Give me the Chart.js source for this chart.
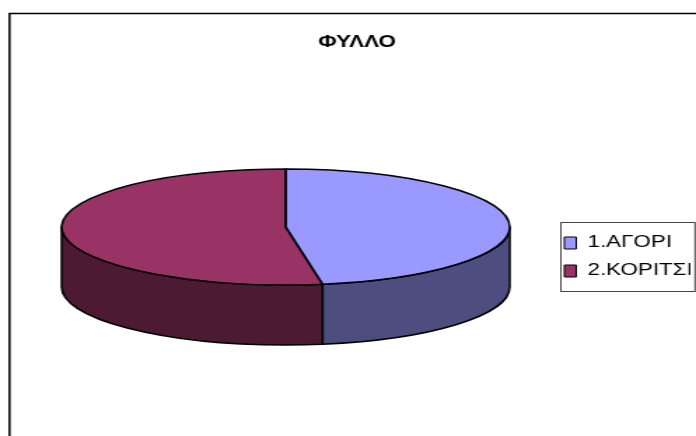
<!DOCTYPE html>
<html>
<head>
<meta charset="utf-8">
<script src="https://cdn.jsdelivr.net/npm/chart.js@4"></script>
<style>
  html, body { margin: 0; padding: 0; background: #fff; }
  #chart { display: block; }
</style>
</head>
<body>
<!-- the original picture is stretched sideways, so the canvas is drawn narrow and widened by css -->
<canvas id="chart" width="497" height="436" style="width:696px;height:436px"></canvas>
<script>
const chartTitle = 'ΦΥΛΛΟ';
const categories = ['1.ΑΓΟΡΙ', '2.ΚΟΡΙΤΣΙ'];
const counts = [45, 50];

const topColors = ['#9999ff', '#993366'];
const sideColors = ['#4d4d80', '#4d1a33'];
const fontFamily = "'Liberation Sans', Arial, sans-serif";

const tilt = 0.3625; // height / width of the top face
const depth = 60;    // thickness of the pie

// parts of a slice that face the viewer (lower half of the ellipse)
function frontParts(a1, a2) {
  const parts = [];
  for (let base = -2 * Math.PI; base <= 2 * Math.PI; base += 2 * Math.PI) {
    const s = Math.max(a1, base);
    const e = Math.min(a2, base + Math.PI);
    if (e > s) parts.push([s, e]);
  }
  return parts;
}

const frame = {
  id: 'frame',
  beforeDraw(chart) {
    const ctx = chart.ctx;
    ctx.save();
    ctx.strokeStyle = '#000';
    ctx.lineWidth = 1.5;
    ctx.strokeRect(6.8, 13.5, chart.width + 20, chart.height + 20);
    ctx.restore();
  }
};

const pie3d = {
  id: 'pie3d',
  beforeDatasetsDraw(chart) {
    const ctx = chart.ctx;
    const arcs = chart.getDatasetMeta(0).data;
    ctx.save();
    ctx.lineWidth = 1.5;
    ctx.strokeStyle = '#000';
    ctx.lineJoin = 'round';
    arcs.forEach((arc, i) => {
      const { x, y, outerRadius: r, startAngle, endAngle } = arc;
      const top = y - depth / 2;
      frontParts(startAngle, endAngle).forEach(([s, e]) => {
        ctx.beginPath();
        ctx.ellipse(x, top, r, r * tilt, 0, s, e);
        ctx.ellipse(x, top + depth, r, r * tilt, 0, e, s, true);
        ctx.closePath();
        ctx.fillStyle = sideColors[i];
        ctx.fill();
        ctx.stroke();
      });
    });
    ctx.restore();

    // squash the library's round pie into the top face
    const { x, y } = arcs[0];
    ctx.save();
    ctx.translate(x, y - depth / 2);
    ctx.scale(1, tilt);
    ctx.translate(-x, -y);
  },
  afterDatasetsDraw(chart) {
    const ctx = chart.ctx;
    ctx.restore();
    const arcs = chart.getDatasetMeta(0).data;
    ctx.save();
    ctx.lineWidth = 1.5;
    ctx.strokeStyle = '#000';
    ctx.lineJoin = 'round';
    arcs.forEach(arc => {
      const { x, y, outerRadius: r, startAngle, endAngle } = arc;
      const top = y - depth / 2;
      ctx.beginPath();
      ctx.moveTo(x, top);
      ctx.ellipse(x, top, r, r * tilt, 0, startAngle, endAngle);
      ctx.closePath();
      ctx.stroke();
    });
    ctx.restore();
  }
};

const legendBorder = {
  id: 'legendBorder',
  afterDraw(chart) {
    const boxes = chart.legend.legendHitBoxes;
    if (!boxes || !boxes.length) return;
    const first = boxes[0];
    const last = boxes[boxes.length - 1];
    const left = first.left - 3;
    const top = first.top - 13;
    const bottom = last.top + last.height + 12;
    const ctx = chart.ctx;
    ctx.save();
    ctx.strokeStyle = '#444';
    ctx.lineWidth = 1;
    ctx.strokeRect(left + 0.5, top + 0.5, chart.width - 1.2 - left, bottom - top);
    ctx.restore();
  }
};

const baseLabels = Chart.overrides.doughnut.plugins.legend.labels.generateLabels;

new Chart(document.getElementById('chart'), {
  type: 'pie',
  data: {
    labels: categories,
    datasets: [{
      data: counts,
      backgroundColor: topColors,
      borderWidth: 0,
      hoverBorderWidth: 0,
      hoverOffset: 0,
      offset: 0,
    }],
  },
  options: {
    responsive: false,
    animation: false,
    events: [],
    layout: { padding: { left: 17, right: 4, top: 0, bottom: 19 } },
    plugins: {
      title: {
        display: true,
        text: chartTitle,
        color: '#000',
        font: { family: fontFamily, size: 16, weight: 'bold' },
        padding: { top: 33, bottom: 44.8 },
      },
      legend: {
        position: 'right',
        fullSize: false,
        maxWidth: 102,
        labels: {
          color: '#000',
          font: { family: fontFamily, size: 16 },
          boxWidth: 8.5,
          boxHeight: 12,
          padding: 12,
          generateLabels(chart) {
            const items = baseLabels(chart);
            items.forEach(item => {
              item.lineWidth = 1;
              item.strokeStyle = '#000';
            });
            return items;
          },
        },
      },
      tooltip: { enabled: false },
    },
  },
  plugins: [frame, pie3d, legendBorder],
});
</script>
</body>
</html>
